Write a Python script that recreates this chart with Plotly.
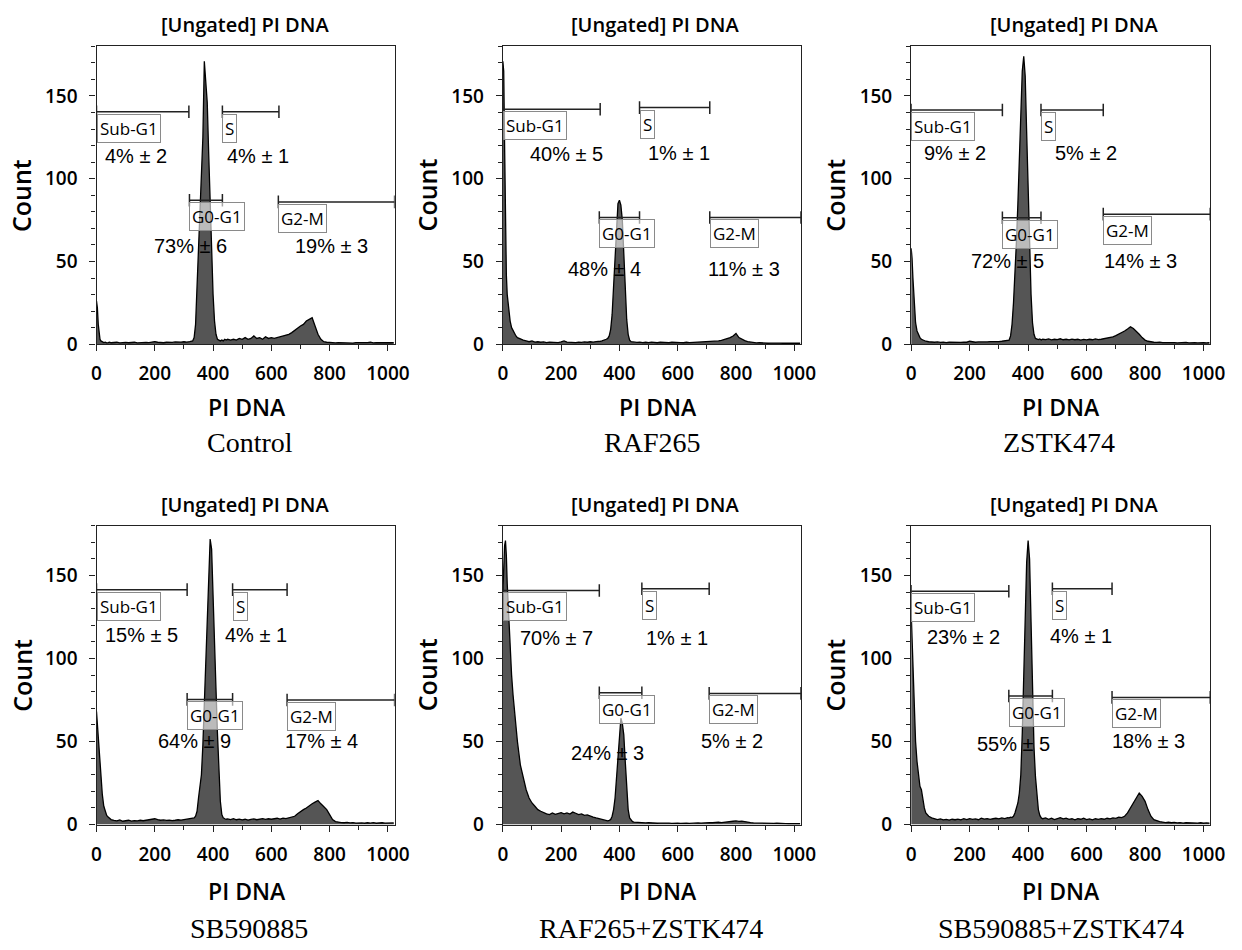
import plotly.graph_objects as go

# ---------------- DATA ----------------
CHANNELS = [0, 3, 6, 9, 12, 15, 20, 25, 30, 35, 40, 45, 50,
            60, 70, 80, 90, 100, 110, 120, 130, 140, 150, 160, 170, 180, 190, 200,
            210, 220, 230, 240, 250, 260, 270, 280, 290, 300, 310, 320, 330,
            335, 340, 345, 350, 355, 360, 365, 370, 375, 380, 385, 390, 395, 400,
            405, 410, 415, 420, 425, 430, 435, 440, 445, 450,
            460, 470, 480, 490, 500, 510, 520, 530, 540, 550, 560, 570, 580, 590,
            600, 610, 620, 630, 640, 650, 660, 670, 680, 690, 700, 710, 720, 730,
            740, 750, 760, 770, 780, 790, 800, 810, 820, 830, 840, 850, 860, 870,
            880, 890, 900, 910, 920, 930, 940, 950, 960, 970, 980, 990, 1000, 1010, 1020]

control_counts = [26, 22, 12, 6, 3, 2, 1.5, 1, 1.2, 0.8, 1, 1.3, 0.9,
                  1, 1.2, 0.8, 1, 1.1, 0.9, 1, 1.2, 0.8, 1, 0.9, 1.1, 1, 1.3, 1.6,
                  1.2, 1, 0.9, 1.2, 1, 1.1, 1.4, 1.2, 1.3, 1.5, 1.3, 1.6, 2,
                  4, 12, 35, 58, 80, 100, 125, 171, 160, 146, 115, 85, 55, 30,
                  14, 6, 3, 2.5, 2, 2.5, 2, 3, 2.5, 3,
                  2.5, 3, 2.5, 3.5, 3, 4, 3, 3.5, 5, 3.5, 4, 3, 4.5, 3.5,
                  4, 3.5, 4, 4.5, 5, 5.5, 6, 7, 8.5, 10, 11, 12, 14, 15,
                  16, 11, 6, 3, 1.5, 1.2, 1, 1.1, 0.8, 1, 0.9, 1.1, 0.8, 1,
                  0.7, 1, 0.9, 1.1, 0.8, 1, 1.2, 0.8, 1, 0.9, 1.1, 0.8, 1, 0.9, 1]

raf265_counts = [171, 165, 120, 70, 42, 30, 20, 14, 10, 8, 6.5, 5, 4,
                 3, 2.5, 2, 1.5, 2, 1.3, 1.5, 1.2, 1.4, 1, 1.3, 1.1, 1.2, 1, 1.4,
                 2, 1.3, 1.1, 1.2, 1, 1.3, 1.1, 1.4, 1.2, 1.5, 1.3, 1.6, 1.5,
                 1.8, 2, 2.2, 2.5, 3, 3.5, 5, 9, 18, 35, 55, 72, 85, 87,
                 84, 75, 55, 35, 15, 6, 2.5, 1.5, 1.3, 1.2,
                 1.1, 1.3, 1, 1.2, 1, 1.3, 1.1, 0.9, 1.2, 1, 1.1, 0.9, 1.2, 1,
                 1.1, 1, 0.9, 1.2, 1, 1.1, 1.3, 1, 1.2, 1.4, 1.3, 1.5, 1.6, 1.8,
                 2, 2.3, 2.8, 3.2, 4, 5, 6.5, 4, 3, 2.2, 1.6, 1.2, 1, 0.8,
                 0.9, 0.7, 0.8, 0.6, 0.7, 0.8, 0.6, 0.7, 0.6, 0.8, 0.6, 0.7, 0.6, 0.5, 0.6]

zstk474_counts = [58, 52, 40, 28, 19, 13, 8, 5.5, 4, 3, 2.5, 2, 1.8,
                  1.5, 1.3, 1.2, 1.4, 1.1, 1.3, 1, 1.2, 1.1, 1, 1.2, 1.1, 1.3, 1.2, 1.8,
                  1.3, 1.2, 1.4, 1.3, 1.5, 1.4, 1.6, 1.5, 1.7, 1.6, 1.8, 2, 2.2,
                  2.5, 5, 12, 25, 42, 62, 85, 112, 142, 165, 174, 162, 128, 92,
                  58, 30, 13, 6, 3.5, 3, 2.8, 3.2, 2.6, 3,
                  2.8, 3.2, 2.6, 3, 2.8, 3.3, 2.7, 3, 2.6, 3.1, 2.7, 3, 2.5, 2.9,
                  2.6, 3, 2.7, 3.2, 2.8, 3, 3.3, 3.5, 4, 4.5, 5.2, 6, 7, 8,
                  9.2, 10.5, 9.5, 8, 6, 4, 2.5, 1.8, 1.4, 1.2, 1.1, 1.3, 1, 1.1,
                  0.9, 1.2, 1, 0.8, 1, 0.9, 1.1, 0.8, 1, 0.9, 0.8, 1, 0.9, 0.8, 1]

sb590885_counts = [68, 60, 52, 45, 38, 30, 18, 11, 7.5, 5.5, 4.5, 3.5, 3,
                   2.5, 2.2, 2.8, 2, 2.3, 2.6, 2.1, 2.4, 2.2, 2.6, 2.3, 2.5, 2.8, 3, 3.5,
                   3, 2.6, 2.8, 2.5, 2.7, 2.4, 2.6, 2.9, 2.7, 3, 3.2, 3.4, 3.6,
                   4, 5, 8, 16, 22, 30, 48, 72, 100, 128, 155, 172, 166, 142,
                   112, 82, 55, 32, 14, 6, 4, 3.5, 3.2, 3.4,
                   3, 3.5, 2.9, 3.3, 2.8, 3.2, 2.7, 3.1, 3.4, 2.9, 3.2, 3.6, 3.1, 3.5,
                   3.2, 3.4, 3.8, 3.3, 3.9, 3.6, 4.2, 4.5, 5, 6.5, 8, 9, 10, 11.5,
                   12.5, 13.5, 14.5, 12.5, 11, 9, 6, 3, 1.8, 1.4, 1.2, 1.1, 1.3, 1,
                   1.2, 0.9, 1.1, 1, 0.8, 1.1, 0.9, 1.2, 0.8, 1, 1.1, 0.9, 1, 0.8, 1]

raf_zstk_counts = [140, 160, 168, 171, 162, 145, 125, 105, 90, 78, 67, 58, 50,
                   36, 28, 21, 16, 13, 11, 9, 8, 7, 6.5, 6, 7, 6.2, 6.8, 7.2,
                   6.5, 7, 6.3, 7.5, 6.8, 6, 6.4, 5.5, 5.8, 5, 4.5, 4, 3.5,
                   3.2, 3, 2.6, 2.8, 2.4, 2.2, 2.5, 3, 5, 9, 16, 28, 44, 57,
                   64, 61, 54, 38, 20, 9, 4, 2.5, 1.8, 1.5,
                   1.3, 1.2, 1.1, 1, 1.1, 0.9, 1, 0.8, 0.9, 1, 0.8, 0.9, 0.7, 0.9,
                   0.8, 0.7, 0.9, 0.8, 0.7, 0.9, 0.8, 1, 0.9, 1.1, 1, 1.2, 1.1, 1.3,
                   1.4, 1.2, 1.5, 1.6, 1.8, 2, 2.2, 1.9, 2.1, 1.7, 1.5, 1.2, 1, 0.9,
                   0.8, 0.9, 0.7, 0.8, 0.6, 0.7, 0.8, 0.6, 0.7, 0.6, 0.5, 0.6, 0.5, 0.6, 0.5]

sb_zstk_counts = [128, 112, 92, 76, 62, 50, 38, 29, 23, 21, 15, 10, 7,
                  5, 4, 3.5, 3, 3.4, 2.8, 3.1, 2.7, 3.2, 2.9, 3.3, 2.8, 3.5, 3, 3.6,
                  3.1, 3.4, 2.9, 3.8, 3.3, 3.6, 3.1, 3.5, 3.8, 3.4, 4, 3.6, 4.2,
                  4, 4.5, 4.2, 5, 7, 10, 13, 19, 30, 55, 90, 128, 158, 171,
                  160, 122, 78, 47, 29, 16, 9, 5.5, 4, 3.5,
                  4, 3.2, 3.8, 3, 3.6, 4.2, 3.4, 3.9, 3.1, 3.5, 2.9, 3.6, 3.2, 3.8,
                  3, 3.4, 2.8, 3.5, 3.1, 3.6, 3.2, 3.8, 3.4, 4, 3.7, 4.5, 4.2, 5,
                  7, 10, 13, 16, 19, 17, 14, 9, 5, 3, 2.2, 1.8, 1.5, 1.2,
                  1.4, 1.1, 1.3, 1, 1.2, 0.9, 1.1, 1, 0.8, 1, 0.9, 1.1, 0.8, 1, 0.9]

panel_names = ["Control", "RAF265", "ZSTK474",
               "SB590885", "RAF265+ZSTK474", "SB590885+ZSTK474"]
panel_counts = [control_counts, raf265_counts, zstk474_counts,
                sb590885_counts, raf_zstk_counts, sb_zstk_counts]

gate_names = ["Sub-G1", "S", "G0-G1", "G2-M"]
# gate ranges (channel start, channel end) and gate level (count) per panel
subg1_gates = [(0, 317, 140.5), (0, 334, 142), (0, 312, 141.5),
               (0, 311, 141.5), (0, 331, 141), (0, 334, 140.5)]
s_gates = [(432, 626, 140.5), (469, 710, 143), (444, 657, 141.5),
           (467, 654, 141.5), (477, 708, 142), (483, 687, 142)]
g0g1_gates = [(319, 432, 87), (331, 469, 76.6), (312, 444, 76.4),
              (311, 467, 75.4), (331, 477, 79.4), (334, 483, 77.4)]
g2m_gates = [(624, 1023, 86), (710, 1023, 76.6), (657, 1023, 78.6),
             (654, 1023, 75), (708, 1023, 79), (687, 1023, 76.6)]

subg1_pct = ["4% ± 2", "40% ± 5", "9% ± 2", "15% ± 5", "70% ± 7", "23% ± 2"]
s_pct = ["4% ± 1", "1% ± 1", "5% ± 2", "4% ± 1", "1% ± 1", "4% ± 1"]
g0g1_pct = ["73% ± 6", "48% ± 4", "72% ± 5", "64% ± 9", "24% ± 3", "55% ± 5"]
g2m_pct = ["19% ± 3", "11% ± 3", "14% ± 3", "17% ± 4", "5% ± 2", "18% ± 3"]

x_ticks = [0, 200, 400, 600, 800, 1000]
y_ticks = [0, 50, 100, 150]

# ---------------- LAYOUT (pixels) ----------------
W, H = 1242, 950
col_px = [(93, 396), (506, 809), (921, 1225)]
row_px = [(47, 349), (533, 836)]
title_x = [244, 661, 1087]
title_y = [25, 511]
count_x = [17, 429, 844]
xlab_x = [246, 664, 1073]
xlab_y = [413, 903]
sub_x = [249, 658, 1071, 248, 657, 1073]
sub_y = [449, 941]
# percent label centres (channel, count) for Sub-G1, S, G0-G1, G2-M
pct_pos = [
    [(137, 114), (553, 114), (323, 59.5), (806, 59.5)],
    [(219, 114.7), (603, 115.7), (350, 45.6), (828, 45.6)],
    [(150, 115.7), (598, 115.7), (330, 50), (783, 50)],
    [(154, 114.3), (547, 114.3), (337, 50.2), (772, 50.2)],
    [(185, 112.3), (598, 112.3), (360, 43.3), (787, 50.2)],
    [(178, 112.7), (581, 113.7), (349, 48.8), (811, 50.2)],
]

SANS = "Open Sans"
PCT_FONT = "Liberation Sans"
SERIF = "Liberation Serif"

def px(x):
    return x / W

def py(y):
    return 1 - y / H

fig = go.Figure()
shapes = []
annotations = []

for i in range(6):
    r, c = divmod(i, 3)
    ax = "" if i == 0 else str(i + 1)
    xa, ya = "x" + ax, "y" + ax
    fig.add_trace(go.Scatter(
        x=CHANNELS, y=panel_counts[i], mode="lines",
        line=dict(color="black", width=1.3),
        fill="tozeroy", fillcolor="#555555",
        xaxis=xa, yaxis=ya, showlegend=False, hoverinfo="skip"))

    common = dict(showgrid=False, zeroline=False, showline=True, mirror=True,
                  linecolor="#222222", linewidth=1.3, ticks="outside",
                  tickcolor="#222222", ticklen=6, tickwidth=1.2,
                  tickfont=dict(family=SANS, size=19, color="black", weight=600))
    fig.layout["xaxis" + ax] = dict(
        common, domain=[px(col_px[c][0]), px(col_px[c][1])], anchor=ya,
        range=[0, 1023], tickmode="array", tickvals=x_ticks,
        minor=dict(tickvals=[100, 300, 500, 700, 900], ticks="outside",
                   ticklen=4, tickcolor="#222222", tickwidth=1),
        ticklabelstandoff=6)
    fig.layout["yaxis" + ax] = dict(
        common, domain=[py(row_px[r][1]), py(row_px[r][0])], anchor=xa,
        range=[0, 180], tickmode="array", tickvals=y_ticks,
        minor=dict(dtick=10, ticks="outside", ticklen=4,
                   tickcolor="#222222", tickwidth=1),
        ticklabelstandoff=8)

    # gates
    gates = [subg1_gates[i], s_gates[i], g0g1_gates[i], g2m_gates[i]]
    pcts = [subg1_pct[i], s_pct[i], g0g1_pct[i], g2m_pct[i]]
    for g, (x0, x1, yv) in enumerate(gates):
        shapes.append(dict(type="line", xref=xa, yref=ya, x0=x0, x1=x1, y0=yv, y1=yv,
                           line=dict(color="#222222", width=1.5), layer="above"))
        for xe in (x0, x1):
            shapes.append(dict(type="line", xref=xa, yref=ya, x0=xe, x1=xe,
                               y0=yv - 3.8, y1=yv + 3.8,
                               line=dict(color="#222222", width=1.5), layer="above"))
        annotations.append(dict(
            x=x0, y=yv - 1.2, xref=xa, yref=ya, text=gate_names[g],
            showarrow=False, xanchor="left", yanchor="top",
            font=dict(family=SANS, size=17, color="black"),
            bgcolor="rgba(255,255,255,0.6)", bordercolor="#8a8a8a",
            borderwidth=1, borderpad=2))
        annotations.append(dict(
            x=pct_pos[i][g][0], y=pct_pos[i][g][1], xref=xa, yref=ya,
            text=pcts[g], showarrow=False, xanchor="center", yanchor="middle",
            font=dict(family=PCT_FONT, size=20, color="black")))

    # panel texts
    annotations.append(dict(x=px(title_x[c]), y=py(title_y[r]), xref="paper", yref="paper",
                            text="[Ungated] PI DNA", showarrow=False,
                            xanchor="center", yanchor="middle",
                            font=dict(family=SANS, size=20, color="black", weight=600)))
    annotations.append(dict(x=px(count_x[c]), y=py((row_px[r][0] + row_px[r][1]) / 2),
                            xref="paper", yref="paper", text="Count", textangle=-90,
                            showarrow=False, xanchor="center", yanchor="middle",
                            font=dict(family=SANS, size=25, color="black", weight=600)))
    annotations.append(dict(x=px(xlab_x[c]), y=py(xlab_y[r]), xref="paper", yref="paper",
                            text="PI DNA", showarrow=False,
                            xanchor="center", yanchor="middle",
                            font=dict(family=SANS, size=23, color="black", weight=600)))
    annotations.append(dict(x=px(sub_x[i]), y=py(sub_y[r]), xref="paper", yref="paper",
                            text=panel_names[i], showarrow=False,
                            xanchor="center", yanchor="middle",
                            font=dict(family=SERIF, size=28, color="black")))

fig.update_layout(width=W, height=H, margin=dict(l=0, r=0, t=0, b=0),
                  paper_bgcolor="white", plot_bgcolor="white",
                  shapes=shapes, annotations=annotations, showlegend=False)

fig.write_html("out.html", config={"displayModeBar": False},
               post_script="document.body.style.margin='0';"
                           "document.body.style.overflow='hidden';"
                           "document.documentElement.style.overflow='hidden';")
